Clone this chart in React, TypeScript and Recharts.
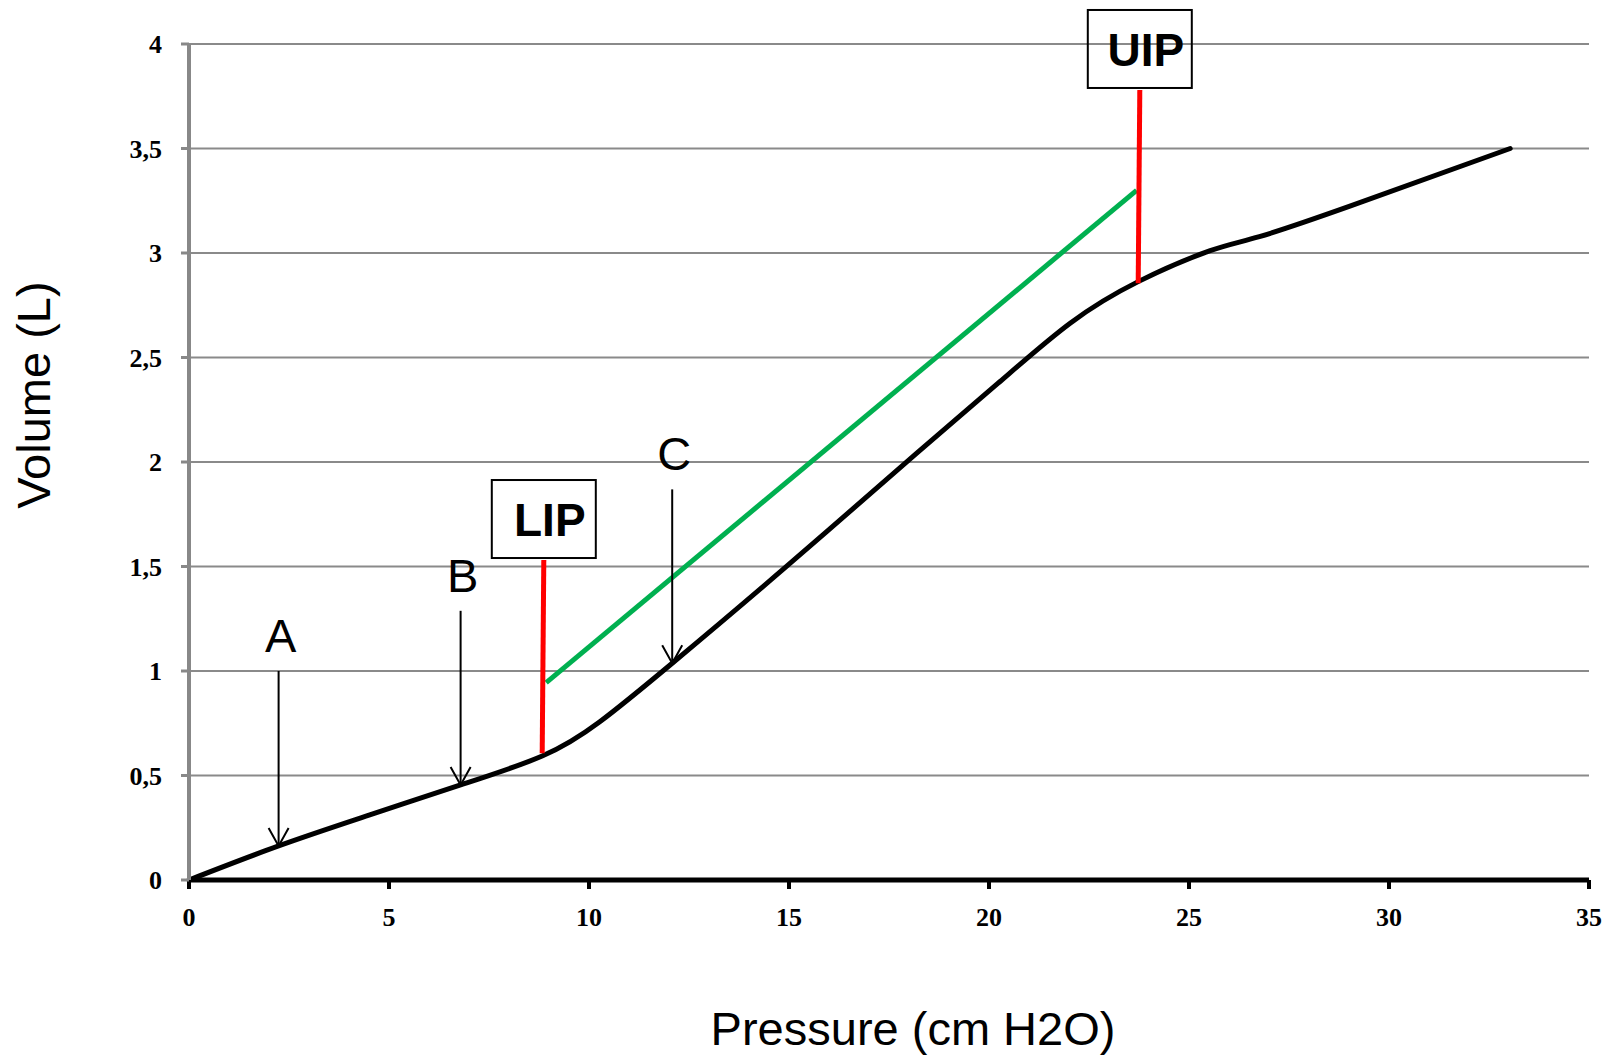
import { LineChart, Line, XAxis, YAxis, CartesianGrid } from 'recharts';

// pressure-volume curve of the lung (cm H2O vs L)
const pressure = [0, 2.24, 4.5, 6.79, 8.83, 10.27, 12.08, 14.93, 18.18, 20.27, 22.02, 23.73, 25.53, 26.76, 29.04, 33.03];
const volume = [0, 0.163, 0.31, 0.455, 0.593, 0.757, 1.037, 1.499, 2.04, 2.384, 2.663, 2.863, 3.011, 3.078, 3.225, 3.5];

// linear compliance segment
const slopeP = [8.93, 23.69];
const slopeV = [0.944, 3.3];

// lower / upper inflection points: marker from top to bottom
const inflectionNames = ['LIP', 'UIP'];
const inflectionP = [[8.87, 8.83], [23.77, 23.73]];
const inflectionV = [[1.531, 0.606], [3.78, 2.855]];

// lettered arrows pointing at the curve
const arrowNames = ['A', 'B', 'C'];
const arrowP = [2.24, 6.79, 12.08];
const arrowTop = [1.0, 1.288, 1.869];
const arrowTip = [0.163, 0.455, 1.037];

const xTicks = [0, 5, 10, 15, 20, 25, 30, 35];
const yTicks = [0, 0.5, 1, 1.5, 2, 2.5, 3, 3.5, 4];

const curve = pressure.map((p, i) => ({ p, v: volume[i] }));
const slope = slopeP.map((p, i) => ({ p, v: slopeV[i] }));
const inflections = inflectionNames.map((name, k) => ({
  name,
  data: inflectionP[k].map((p, i) => ({ p, v: inflectionV[k][i] })),
}));
const arrows = arrowNames.map((name, k) => ({
  name,
  data: [
    { p: arrowP[k], v: arrowTop[k] },
    { p: arrowP[k], v: arrowTip[k] },
  ],
}));

const sans = 'Liberation Sans, Arial, sans-serif';
const serif = 'Liberation Serif, Times New Roman, serif';

const arrowDot = (name: string) => (props: any) => {
  const { cx, cy, index } = props;
  if (index === 0) {
    return (
      <text key={`${name}-t`} x={cx + 2} y={cy - 19} textAnchor="middle" fontFamily={sans} fontSize={47} fill="#000">
        {name}
      </text>
    );
  }
  return (
    <polyline
      key={`${name}-h`}
      points={`${cx - 10},${cy - 18} ${cx},${cy} ${cx + 10},${cy - 18}`}
      fill="none"
      stroke="#000"
      strokeWidth={2}
    />
  );
};

const boxDot = (name: string) => (props: any) => {
  const { cx, cy, index } = props;
  if (index !== 0) return <g key={`${name}-b${index}`} />;
  const w = 104;
  const h = 78;
  return (
    <g key={`${name}-box`}>
      <rect x={cx - w / 2} y={cy - h - 2} width={w} height={h} fill="none" stroke="#000" strokeWidth={2} />
      <text x={cx + 6} y={cy - 24} textAnchor="middle" fontFamily={sans} fontWeight="bold" fontSize={46} fill="#000">
        {name}
      </text>
    </g>
  );
};

const xTitle = (props: any) => {
  const { x, y, width } = props.viewBox;
  return (
    <text x={x + width / 2 + 24} y={y + 165} textAnchor="middle" fontFamily={sans} fontSize={47} fill="#000">
      Pressure (cm H2O)
    </text>
  );
};

const yTitle = (props: any) => {
  const { y, height } = props.viewBox;
  const cx = 50;
  const cy = y + height / 2 - 67;
  return (
    <text x={cx} y={cy} transform={`rotate(-90, ${cx}, ${cy})`} textAnchor="middle" fontFamily={sans} fontSize={47} fill="#000">
      Volume (L)
    </text>
  );
};

export default function App() {
  return (
    <div style={{ position: 'absolute', left: 0, top: 0, background: '#fff' }}>
      <LineChart width={1614} height={1058} margin={{ top: 44, right: 25, bottom: 0, left: 0 }}>
        <CartesianGrid vertical={false} stroke="#8a8a8a" strokeWidth={2} />
        <XAxis
          type="number"
          dataKey="p"
          domain={[0, 35]}
          ticks={xTicks}
          height={178}
          axisLine={{ stroke: '#000', strokeWidth: 5 }}
          tickLine={{ stroke: '#000', strokeWidth: 4 }}
          tickSize={9}
          tickMargin={19}
          tick={{ fontFamily: serif, fontWeight: 'bold', fontSize: 26, fill: '#000' }}
          label={xTitle}
        />
        <YAxis
          type="number"
          dataKey="v"
          domain={[0, 4]}
          ticks={yTicks}
          width={189}
          axisLine={{ stroke: '#888', strokeWidth: 4 }}
          tickLine={{ stroke: '#888', strokeWidth: 3 }}
          tickSize={8}
          tickMargin={19}
          tickFormatter={(v: number) => String(v).replace('.', ',')}
          tick={{ fontFamily: serif, fontWeight: 'bold', fontSize: 26, fill: '#000' }}
          label={yTitle}
        />
        <Line
          data={curve}
          dataKey="v"
          type="natural"
          stroke="#000"
          strokeWidth={5}
          strokeLinecap="round"
          dot={false}
          activeDot={false}
          isAnimationActive={false}
        />
        <Line
          data={slope}
          dataKey="v"
          type="linear"
          stroke="#00b050"
          strokeWidth={5}
          dot={false}
          activeDot={false}
          isAnimationActive={false}
        />
        {inflections.map((m) => (
          <Line
            key={m.name}
            data={m.data}
            dataKey="v"
            type="linear"
            stroke="#ff0000"
            strokeWidth={5}
            dot={boxDot(m.name)}
            activeDot={false}
            isAnimationActive={false}
          />
        ))}
        {arrows.map((a) => (
          <Line
            key={a.name}
            data={a.data}
            dataKey="v"
            type="linear"
            stroke="#000"
            strokeWidth={2}
            dot={arrowDot(a.name)}
            activeDot={false}
            isAnimationActive={false}
          />
        ))}
      </LineChart>
    </div>
  );
}
